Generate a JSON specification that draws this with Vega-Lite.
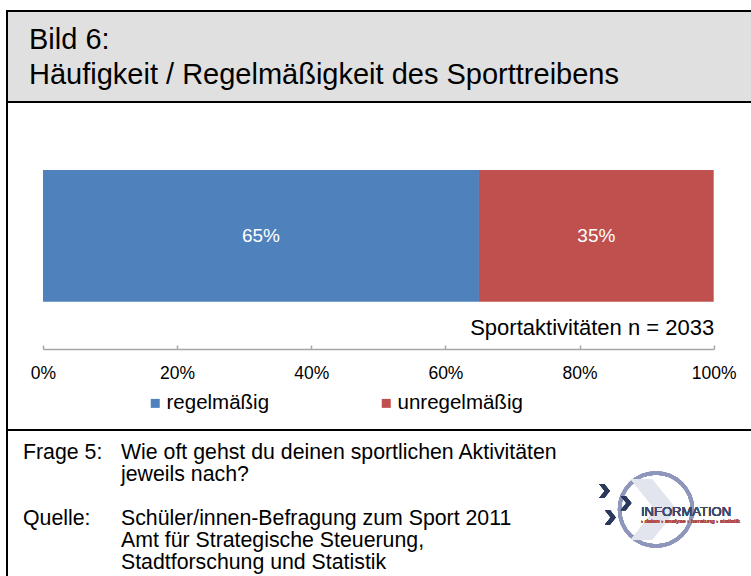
{
  "$schema": "https://vega.github.io/schema/vega-lite/v6.json",
  "padding": {"left": 6, "top": 10, "right": 0, "bottom": 0},
  "spacing": 0,
  "bounds": "flush",
  "config": {
    "font": "Liberation Sans",
    "concat": {"spacing": 0}
  },
  "vconcat": [
    {
      "width": 750,
      "height": 91,
      "view": {"fill": "#e0e0e0", "stroke": "black", "strokeWidth": 2},
      "data": {"values": [
        {"zeile": 1, "text": "Bild 6:"},
        {"zeile": 2, "text": "Häufigkeit / Regelmäßigkeit des Sporttreibens"}
      ]},
      "mark": {"type": "text", "align": "left", "baseline": "alphabetic", "fontSize": 29, "color": "black", "x": 0, "dx": 22},
      "encoding": {
        "y": {"field": "zeile", "type": "quantitative", "scale": {"domain": [-0.113, 2.532], "reverse": true, "nice": false, "zero": false}, "axis": null},
        "text": {"field": "text", "type": "nominal"}
      }
    },
    {
      "width": 750,
      "height": 328,
      "view": {"fill": "white", "stroke": "black", "strokeWidth": 2},
      "data": {"values": [
        {"gruppe": "Sportaktivitäten", "kategorie": "regelmäßig", "anteil": 0.65},
        {"gruppe": "Sportaktivitäten", "kategorie": "unregelmäßig", "anteil": 0.35}
      ]},
      "layer": [
        {
          "mark": {"type": "bar"},
          "encoding": {
            "x": {
              "field": "anteil", "type": "quantitative", "stack": "zero",
              "scale": {"domain": [0, 1], "range": [36, 706.7], "nice": false},
              "axis": {
                "values": [0, 0.2, 0.4, 0.6, 0.8, 1],
                "format": ".0%",
                "offset": -81,
                "grid": false,
                "tickSize": -4,
                "labelPadding": 19,
                "domainColor": "#a6a6a6",
                "tickColor": "#a6a6a6",
                "domainWidth": 1.5,
                "tickWidth": 1.5,
                "labelFontSize": 17.5,
                "labelColor": "black",
                "labelFlush": false,
                "title": "Sportaktivitäten n = 2033",
                "titleAnchor": "end",
                "titleY": -22,
                "titleBaseline": "middle",
                "titleFontSize": 22,
                "titleFontWeight": "normal",
                "titleColor": "black"
              }
            },
            "y": {"field": "gruppe", "type": "nominal", "scale": {"range": [68, 199.7], "paddingInner": 0, "paddingOuter": 0}, "axis": null},
            "color": {
              "field": "kategorie", "type": "nominal",
              "scale": {"domain": ["regelmäßig", "unregelmäßig"], "range": ["#4f81bd", "#c0504d"]},
              "legend": {
                "orient": "none", "legendX": 138, "legendY": 382,
                "direction": "horizontal", "title": null,
                "symbolType": "square", "symbolSize": 81, "symbolStrokeWidth": 0,
                "labelFontSize": 20.5, "labelColor": "black", "labelOffset": 1,
                "columnPadding": 106, "padding": 0
              }
            }
          }
        },
        {
          "transform": [
            {"stack": "anteil", "groupby": ["gruppe"], "sort": [{"field": "kategorie", "order": "ascending"}], "as": ["x_anfang", "x_ende"]},
            {"fold": ["x_anfang", "x_ende"], "as": ["kante", "x_pos"]},
            {"aggregate": [{"op": "mean", "field": "x_pos", "as": "x_mitte"}, {"op": "max", "field": "anteil", "as": "wert"}], "groupby": ["gruppe", "kategorie"]}
          ],
          "mark": {"type": "text", "color": "white", "fontSize": 19, "baseline": "middle"},
          "encoding": {
            "x": {"field": "x_mitte", "type": "quantitative"},
            "y": {"field": "gruppe", "type": "nominal"},
            "text": {"field": "wert", "type": "quantitative", "format": ".0%"}
          }
        }
      ]
    },
    {
      "width": 750,
      "height": 150,
      "view": {"fill": "white", "stroke": "black", "strokeWidth": 2},
      "data": {"values": [
        {"zeile": 1, "spalte": 1, "text": "Frage 5:"},
        {"zeile": 1, "spalte": 2, "text": "Wie oft gehst du deinen sportlichen Aktivitäten"},
        {"zeile": 2, "spalte": 2, "text": "jeweils nach?"},
        {"zeile": 4, "spalte": 1, "text": "Quelle:"},
        {"zeile": 4, "spalte": 2, "text": "Schüler/innen-Befragung zum Sport 2011"},
        {"zeile": 5, "spalte": 2, "text": "Amt für Strategische Steuerung,"},
        {"zeile": 6, "spalte": 2, "text": "Stadtforschung und Statistik"}
      ]},
      "layer": [
        {
          "mark": {"type": "text", "align": "left", "baseline": "middle", "fontSize": 21.3, "color": "black"},
          "encoding": {
            "x": {"field": "spalte", "type": "quantitative", "scale": {"domain": [0.8367, 8.4898], "nice": false, "zero": false}, "axis": null},
            "y": {"field": "zeile", "type": "quantitative", "scale": {"domain": [-0.0227, 6.795], "reverse": true, "nice": false, "zero": false}, "axis": null},
            "text": {"field": "text", "type": "nominal"}
          }
        },
        {
          "mark": {"type": "point", "shape": "circle", "filled": false, "stroke": "#8e97bb", "strokeWidth": 3.5, "size": 5300, "opacity": 1},
          "encoding": {
            "x": {"datum": 7.459, "type": "quantitative"},
            "y": {"datum": 3.591, "type": "quantitative"}
          }
        },
        {
          "mark": {"type": "point", "shape": "M-0.7,-1L0.1,0L-0.7,1L0,1L0.8,0L0,-1Z", "filled": true, "fill": "#e3e5ee", "strokeWidth": 0, "size": 3600, "opacity": 1},
          "encoding": {
            "x": {"datum": 7.42, "type": "quantitative"},
            "y": {"datum": 3.591, "type": "quantitative"}
          }
        },
        {
          "mark": {"type": "point", "shape": "M-0.7,-1L0.1,0L-0.7,1L0,1L0.8,0L0,-1Z", "filled": true, "fill": "#2b3a5c", "strokeWidth": 0, "size": 200, "opacity": 1},
          "encoding": {
            "x": {"datum": 6.93, "type": "quantitative"},
            "y": {"datum": 2.75, "type": "quantitative"}
          }
        },
        {
          "mark": {"type": "point", "shape": "M-0.7,-1L0.1,0L-0.7,1L0,1L0.8,0L0,-1Z", "filled": true, "fill": "#2b3a5c", "strokeWidth": 0, "size": 200, "opacity": 1},
          "encoding": {
            "x": {"datum": 7.15, "type": "quantitative"},
            "y": {"datum": 3.3, "type": "quantitative"}
          }
        },
        {
          "mark": {"type": "point", "shape": "M-0.7,-1L0.1,0L-0.7,1L0,1L0.8,0L0,-1Z", "filled": true, "fill": "#2b3a5c", "strokeWidth": 0, "size": 200, "opacity": 1},
          "encoding": {
            "x": {"datum": 6.99, "type": "quantitative"},
            "y": {"datum": 3.95, "type": "quantitative"}
          }
        },
        {
          "mark": {"type": "text", "align": "left", "baseline": "middle", "fontSize": 13, "color": "#3d4a6b", "text": "INFORMATION"},
          "encoding": {
            "x": {"datum": 7.306, "type": "quantitative"},
            "y": {"datum": 3.72, "type": "quantitative"}
          }
        },
        {
          "mark": {"type": "text", "align": "left", "baseline": "middle", "fontSize": 6, "color": "#b04a4a", "text": "› daten › analyse › beratung › statistik"},
          "encoding": {
            "x": {"datum": 7.306, "type": "quantitative"},
            "y": {"datum": 4.12, "type": "quantitative"}
          }
        }
      ]
    }
  ]
}
